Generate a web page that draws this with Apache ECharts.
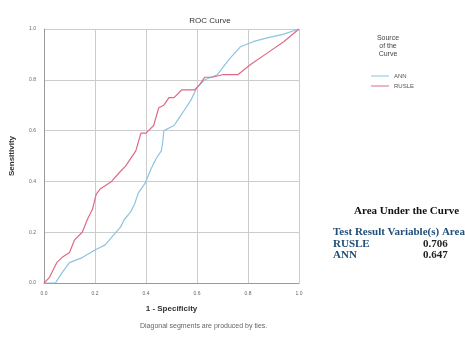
<!DOCTYPE html>
<html>
<head>
<meta charset="utf-8">
<script src="https://cdn.jsdelivr.net/npm/echarts@6/dist/echarts.min.js"></script>
<style>
  html, body { margin: 0; padding: 0; background: #fff; }
  #chart { width: 465px; height: 343px; }
</style>
</head>
<body>
<div id="chart"></div>
<script>
// ROC points: 1 - specificity, sensitivity
const rusleX = [0, 0.02, 0.05, 0.07, 0.10, 0.12, 0.15, 0.17, 0.19, 0.205, 0.22, 0.265, 0.30, 0.32, 0.36, 0.38, 0.40, 0.43, 0.45, 0.47, 0.49, 0.51, 0.54, 0.59, 0.61, 0.63, 0.66, 0.70, 0.76, 0.81, 0.875, 0.94, 1]
const rusleY = [0, 0.02, 0.08, 0.10, 0.12, 0.17, 0.20, 0.25, 0.29, 0.35, 0.37, 0.40, 0.44, 0.46, 0.52, 0.59, 0.59, 0.62, 0.69, 0.70, 0.73, 0.73, 0.76, 0.76, 0.78, 0.81, 0.81, 0.82, 0.82, 0.86, 0.905, 0.95, 1]
const annX = [0, 0.045, 0.07, 0.10, 0.15, 0.20, 0.24, 0.265, 0.30, 0.315, 0.34, 0.355, 0.37, 0.395, 0.42, 0.44, 0.46, 0.465, 0.47, 0.51, 0.53, 0.55, 0.576, 0.60, 0.63, 0.68, 0.71, 0.73, 0.77, 0.82, 0.875, 0.94, 1]
const annY = [0, 0, 0.04, 0.08, 0.10, 0.13, 0.15, 0.18, 0.22, 0.25, 0.28, 0.31, 0.355, 0.39, 0.45, 0.49, 0.52, 0.55, 0.60, 0.62, 0.65, 0.68, 0.72, 0.77, 0.80, 0.82, 0.86, 0.885, 0.93, 0.95, 0.965, 0.98, 1]

const aucNames = ['RUSLE', 'ANN']
const aucValues = ['0.706', '0.647']

const toPairs = (xs, ys) => xs.map((x, i) => [x, ys[i]])

const chart = echarts.init(document.getElementById('chart'))

// 右侧的面积表
const tableFont = 'bold 11px "Liberation Serif"'
const tableText = []
aucNames.forEach((name, i) => {
  tableText.push({ type: 'text', x: 333, y: 239 + i * 11, style: { text: name, font: tableFont, fill: '#1f4e79' } })
  tableText.push({ type: 'text', x: 423, y: 239 + i * 11, style: { text: aucValues[i], font: tableFont, fill: '#222' } })
})

const option = {
  animation: false,
  title: {
    text: 'ROC Curve',
    left: 205,
    top: 12,
    textAlign: 'center',
    textStyle: { fontSize: 8, fontWeight: 'normal', color: '#333', fontFamily: 'Liberation Sans' }
  },
  grid: { left: 42, right: 166, top: 29, bottom: 60 },
  legend: {
    data: ['ANN', 'RUSLE'],
    orient: 'vertical',
    left: 366,
    top: 68,
    itemWidth: 18,
    itemHeight: 6,
    itemGap: 4,
    icon: 'path://M0,3 L18,3 L18,4 L0,4 Z',
    textStyle: { fontSize: 6, color: '#555', fontFamily: 'Liberation Sans' }
  },
  xAxis: {
    type: 'value',
    min: 0, max: 1, interval: 0.2,
    name: '1 - Specificity',
    nameLocation: 'middle',
    nameGap: 22,
    nameTextStyle: { fontSize: 8, fontWeight: 'bold', color: '#333' },
    axisLine: { lineStyle: { color: '#999' } },
    axisTick: { show: false },
    axisLabel: { fontSize: 5, color: '#666', formatter: v => v.toFixed(1) },
    splitLine: { lineStyle: { color: '#ccc', width: 1 } }
  },
  yAxis: {
    type: 'value',
    min: 0, max: 1, interval: 0.2,
    name: 'Sensitivity',
    nameLocation: 'middle',
    nameGap: 28,
    nameTextStyle: { fontSize: 8, fontWeight: 'bold', color: '#333' },
    axisLine: { show: true, lineStyle: { color: '#999' } },
    axisTick: { show: false },
    axisLabel: { fontSize: 5, color: '#666', formatter: v => v.toFixed(1) },
    splitLine: { lineStyle: { color: '#ccc', width: 1 } }
  },
  series: [
    {
      name: 'ANN',
      type: 'line',
      data: toPairs(annX, annY),
      showSymbol: false,
      itemStyle: { color: '#8cc4e2' },
      lineStyle: { width: 1.2, color: '#8cc4e2' }
    },
    {
      name: 'RUSLE',
      type: 'line',
      data: toPairs(rusleX, rusleY),
      showSymbol: false,
      itemStyle: { color: '#de6a86' },
      lineStyle: { width: 1.2, color: '#de6a86' }
    }
  ],
  graphic: [
    { type: 'text', x: 388, y: 34, style: { text: 'Source\nof the\nCurve', font: '7px "Liberation Sans"', fill: '#444', align: 'center', lineHeight: 8 } },
    { type: 'text', x: 140, y: 323, style: { text: 'Diagonal segments are produced by ties.', font: '7px "Liberation Sans"', fill: '#666' } },
    { type: 'text', x: 354, y: 206, style: { text: 'Area Under the Curve', font: tableFont, fill: '#111' } },
    { type: 'text', x: 333, y: 227, style: { text: 'Test Result Variable(s) Area', font: tableFont, fill: '#1f4e79' } },
    ...tableText
  ]
}

chart.setOption(option)
</script>
</body>
</html>
